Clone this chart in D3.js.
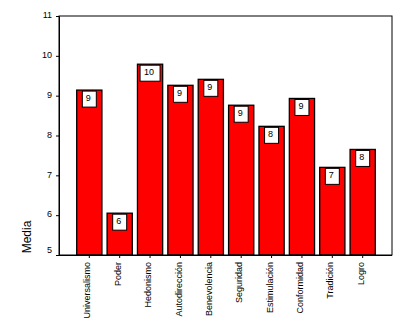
<!DOCTYPE html>
<html>
<head>
<meta charset="utf-8">
<script src="https://cdn.jsdelivr.net/npm/d3@7"></script>
<style>
  html, body { margin: 0; padding: 0; background: #fff; }
  svg { display: block; font-family: "Liberation Sans", Arial, sans-serif; }
</style>
</head>
<body>
<svg id="chart" width="409" height="328"></svg>
<script>
// Mean score for each value dimension
const categories = ["Universalismo", "Poder", "Hedonismo", "Autodirección", "Benevolencia",
                    "Seguridad", "Estimulación", "Conformidad", "Tradición", "Logro"];
const means = [9.14, 6.05, 9.79, 9.26, 9.41, 8.76, 8.23, 8.93, 7.20, 7.65];
const yTicks = [5, 6, 7, 8, 9, 10, 11];
const yTitle = "Media";

const svg = d3.select("#chart");
const plot = { left: 59, right: 392, top: 16, bottom: 255 };

const x = d3.scaleBand()
  .domain(categories)
  .range([plot.left + 1, plot.right])
  .paddingInner(0.17)
  .paddingOuter(0.55);

const y = d3.scaleLinear().domain([5, 11]).range([plot.bottom, plot.top]);

// bars
svg.append("g").selectAll("rect")
  .data(categories)
  .join("rect")
  .attr("x", d => x(d))
  .attr("y", (d, i) => y(means[i]))
  .attr("width", x.bandwidth())
  .attr("height", (d, i) => y(5) - y(means[i]))
  .attr("fill", "#ff0000")
  .attr("stroke", "#000")
  .attr("stroke-width", 1.3);

// value labels: rounded mean in a white box at the top of each bar
const lab = svg.append("g").selectAll("g")
  .data(categories)
  .join("g")
  .attr("transform", (d, i) => `translate(${x(d) + x.bandwidth() / 2},${y(means[i]) + 1})`);

lab.append("rect")
  .attr("x", (d, i) => Math.round(means[i]) >= 10 ? -10 : -7)
  .attr("y", 0)
  .attr("width", (d, i) => Math.round(means[i]) >= 10 ? 20 : 14)
  .attr("height", 16)
  .attr("fill", "#fff")
  .attr("stroke", "#000")
  .attr("stroke-width", 1);

lab.append("text")
  .attr("x", -1)
  .attr("y", 10)
  .attr("text-anchor", "middle")
  .attr("font-size", 9)
  .attr("fill", "#000")
  .text((d, i) => Math.round(means[i]));

// frame
svg.append("rect")
  .attr("x", plot.left).attr("y", plot.top)
  .attr("width", plot.right - plot.left).attr("height", plot.bottom - plot.top)
  .attr("fill", "none").attr("stroke", "#000").attr("stroke-width", 1);

// y axis
const yAxis = svg.append("g")
  .attr("transform", `translate(${plot.left},0)`)
  .call(d3.axisLeft(y).tickValues(yTicks).tickFormat(d3.format("d")).tickSize(3).tickPadding(4));
yAxis.select(".domain").attr("stroke", "#000");
yAxis.selectAll(".tick line").attr("stroke", "#000");
yAxis.selectAll(".tick text")
  .attr("font-size", 9)
  .attr("font-family", "Liberation Sans, Arial, sans-serif")
  .attr("fill", "#000")
  .attr("dy", d => d === 5 ? "-0.3em" : "0.2em");

// x axis
const xAxis = svg.append("g")
  .attr("transform", `translate(0,${plot.bottom})`)
  .call(d3.axisBottom(x).tickSize(3).tickPadding(6).tickSizeOuter(0));
xAxis.select(".domain").attr("d", `M${plot.left - 2},0.5H${plot.right}`).attr("stroke", "#000");
xAxis.selectAll(".tick line").attr("stroke", "#000");
xAxis.selectAll(".tick text")
  .attr("font-size", 9)
  .attr("font-family", "Liberation Sans, Arial, sans-serif")
  .attr("fill", "#000")
  .attr("transform", "rotate(-90)")
  .attr("text-anchor", "end")
  .attr("x", -7)
  .attr("y", -2)
  .attr("dy", "0.35em");

// y axis title
svg.append("text")
  .attr("transform", "translate(31,237) rotate(-90)")
  .attr("text-anchor", "middle")
  .attr("font-size", 12)
  .attr("fill", "#000")
  .text(yTitle);
</script>
</body>
</html>
